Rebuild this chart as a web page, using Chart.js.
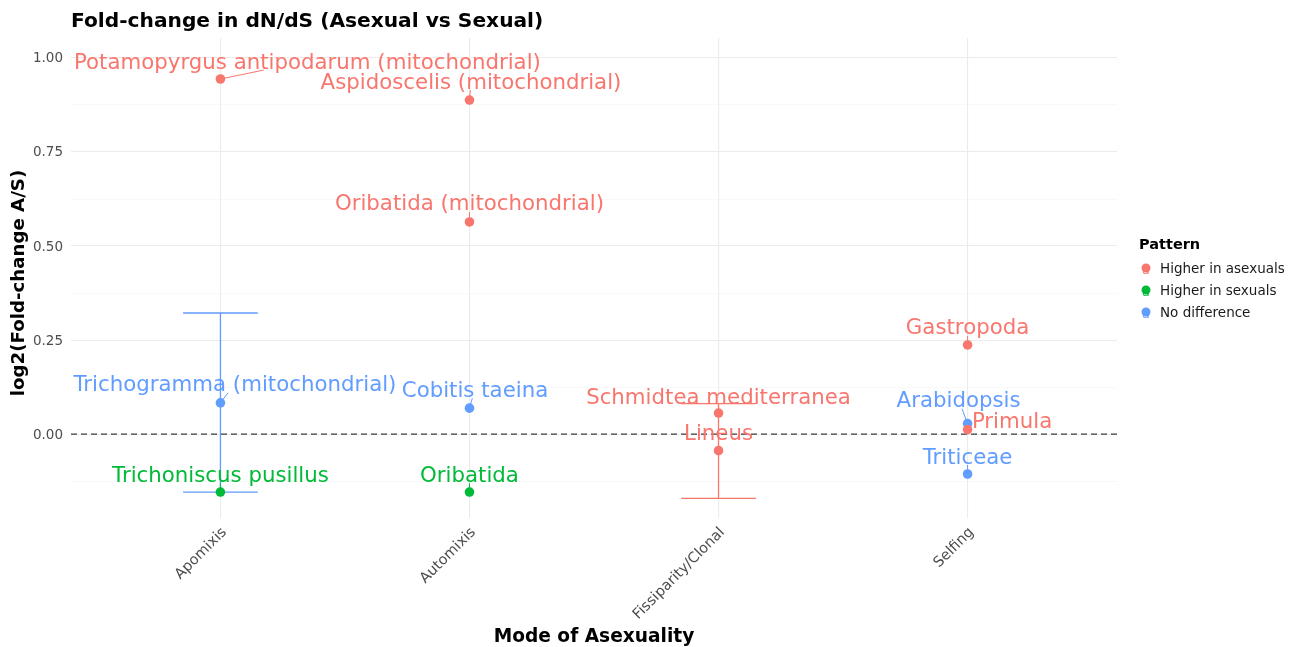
<!DOCTYPE html>
<html>
<head>
<meta charset="utf-8">
<script src="https://cdn.jsdelivr.net/npm/chart.js@4.4.1/dist/chart.umd.min.js"></script>
<style>
  html, body { margin: 0; padding: 0; background: #ffffff; }
  canvas { display: block; }
</style>
</head>
<body>
<canvas id="chart" width="1295" height="647"></canvas>
<script>
// ---- data ----
const modes = ['Apomixis', 'Automixis', 'Fissiparity/Clonal', 'Selfing'];
const patterns = ['Higher in asexuals', 'Higher in sexuals', 'No difference'];

const taxa = [
  'Potamopyrgus antipodarum (mitochondrial)',
  'Trichogramma (mitochondrial)',
  'Trichoniscus pusillus',
  'Aspidoscelis (mitochondrial)',
  'Oribatida (mitochondrial)',
  'Cobitis taeina',
  'Oribatida',
  'Schmidtea mediterranea',
  'Lineus',
  'Gastropoda',
  'Arabidopsis',
  'Primula',
  'Triticeae'
];
const taxonMode = [
  'Apomixis', 'Apomixis', 'Apomixis',
  'Automixis', 'Automixis', 'Automixis', 'Automixis',
  'Fissiparity/Clonal', 'Fissiparity/Clonal',
  'Selfing', 'Selfing', 'Selfing', 'Selfing'
];
const log2FoldChange = [0.944, 0.083, -0.154, 0.888, 0.564, 0.069, -0.154, 0.056, -0.044, 0.237, 0.028, 0.012, -0.106];
const taxonPattern = [
  'Higher in asexuals', 'No difference', 'Higher in sexuals',
  'Higher in asexuals', 'Higher in asexuals', 'No difference', 'Higher in sexuals',
  'Higher in asexuals', 'Higher in asexuals',
  'Higher in asexuals', 'No difference', 'Higher in asexuals', 'No difference'
];
const ciLower = [null, -0.154, null, null, null, null, null, null, -0.171, null, null, null, null];
const ciUpper = [null, 0.322, null, null, null, null, null, null, 0.081, null, null, null, null];

const yMajorTicks = [0, 0.25, 0.5, 0.75, 1.0];
const yTickLabels = ['0.00', '0.25', '0.50', '0.75', '1.00'];
const yMinorTicks = [-0.125, 0.125, 0.375, 0.625, 0.875];

// ---- styling ----
const patternColors = {
  'Higher in asexuals': '#F8766D',
  'Higher in sexuals': '#00BA38',
  'No difference': '#619CFF'
};
// label placement (pixel shift of each label centre from its point, repel-style)
const labelShift = [
  [87, -18], [14.5, -19], [0, -18], [1.5, -19], [0, -19], [5.5, -19], [0, -18],
  [0, -17], [0, -18], [0, -18], [-9, -24], [44.5, -9], [0, -18]
];
const FONT = "'DejaVu Sans', 'Liberation Sans', sans-serif";
const PANEL = { left: 71, right: 1117, top: 38, bottom: 518 };
const W = 1295, H = 647;

const datasets = patterns.map(p => ({
  label: p,
  data: taxa.map((t, i) => i).filter(i => taxonPattern[i] === p).map(i => ({
    x: modes.indexOf(taxonMode[i]) + 1,
    y: log2FoldChange[i],
    idx: i
  })),
  backgroundColor: patternColors[p],
  borderWidth: 0,
  pointRadius: 4.8,
  pointHoverRadius: 4.8
}));

const decorations = {
  id: 'decorations',
  beforeDatasetsDraw(chart) {
    const { ctx, chartArea: a, scales: { x, y } } = chart;
    ctx.save();
    // reference line at zero
    ctx.strokeStyle = '#3d3d3d';
    ctx.lineWidth = 1.2;
    ctx.setLineDash([6, 4]);
    const y0 = y.getPixelForValue(0);
    ctx.beginPath();
    ctx.moveTo(a.left, y0);
    ctx.lineTo(a.right, y0);
    ctx.stroke();
    ctx.setLineDash([]);
    // error bars
    const halfW = (x.getPixelForValue(1.15) - x.getPixelForValue(1));
    taxa.forEach((t, i) => {
      if (ciLower[i] === null) return;
      const px = x.getPixelForValue(modes.indexOf(taxonMode[i]) + 1);
      const lo = y.getPixelForValue(ciLower[i]);
      const hi = y.getPixelForValue(ciUpper[i]);
      ctx.strokeStyle = patternColors[taxonPattern[i]];
      ctx.lineWidth = 1.3;
      ctx.beginPath();
      ctx.moveTo(px - halfW, hi); ctx.lineTo(px + halfW, hi);
      ctx.moveTo(px, hi); ctx.lineTo(px, lo);
      ctx.moveTo(px - halfW, lo); ctx.lineTo(px + halfW, lo);
      ctx.stroke();
    });
    ctx.restore();
  },
  afterDatasetsDraw(chart) {
    const { ctx, scales: { x, y } } = chart;
    ctx.save();
    ctx.font = `21.3px ${FONT}`;
    ctx.textAlign = 'center';
    ctx.textBaseline = 'middle';
    taxa.forEach((t, i) => {
      const px = x.getPixelForValue(modes.indexOf(taxonMode[i]) + 1);
      const py = y.getPixelForValue(log2FoldChange[i]);
      const cx = px + labelShift[i][0];
      const cy = py + labelShift[i][1];
      const hw = ctx.measureText(t).width / 2;
      const hh = 9;
      const col = patternColors[taxonPattern[i]];
      // connector from the point to the label box
      const dx = cx - px, dy = cy - py;
      let tEnter = -Infinity;
      if (dx !== 0) tEnter = Math.max(tEnter, ((dx > 0 ? cx - hw : cx + hw) - px) / dx);
      if (dy !== 0) tEnter = Math.max(tEnter, ((dy > 0 ? cy - hh : cy + hh) - py) / dy);
      if (tEnter > 0 && tEnter < 1) {
        const ex = px + dx * tEnter, ey = py + dy * tEnter;
        if (Math.hypot(ex - px, ey - py) > 7) {
          ctx.strokeStyle = col;
          ctx.lineWidth = 1;
          ctx.beginPath();
          ctx.moveTo(px, py);
          ctx.lineTo(ex, ey);
          ctx.stroke();
        }
      }
      ctx.fillStyle = col;
      ctx.fillText(t, cx, cy + 2);
    });
    ctx.restore();
  },
  afterDraw(chart) {
    const { ctx, chartArea: a } = chart;
    ctx.save();
    // title
    ctx.fillStyle = '#000000';
    ctx.font = `bold 20.2px ${FONT}`;
    ctx.textAlign = 'left';
    ctx.textBaseline = 'alphabetic';
    ctx.fillText('Fold-change in dN/dS (Asexual vs Sexual)', a.left, 27);
    // axis titles
    ctx.font = `bold 18.6px ${FONT}`;
    ctx.textAlign = 'center';
    ctx.fillText('Mode of Asexuality', (a.left + a.right) / 2, 642);
    ctx.save();
    ctx.translate(24, 283);
    ctx.rotate(-Math.PI / 2);
    ctx.font = `bold 18.2px ${FONT}`;
    ctx.fillText('log2(Fold-change A/S)', 0, 0);
    ctx.restore();
    // legend
    ctx.textAlign = 'left';
    ctx.font = `bold 14.5px ${FONT}`;
    ctx.fillText('Pattern', 1139, 249);
    patterns.forEach((p, k) => {
      const ky = 269 + k * 22;
      const col = patternColors[p];
      ctx.fillStyle = col;
      ctx.font = `12px ${FONT}`;
      ctx.textAlign = 'center';
      ctx.textBaseline = 'middle';
      ctx.fillText('a', 1146, ky + 2);
      ctx.beginPath();
      ctx.arc(1146, ky - 1, 4.5, 0, Math.PI * 2);
      ctx.fill();
      ctx.fillStyle = '#1a1a1a';
      ctx.textAlign = 'left';
      ctx.font = `13.5px ${FONT}`;
      ctx.fillText(p, 1160, ky);
    });
    ctx.restore();
  }
};

new Chart(document.getElementById('chart'), {
  type: 'scatter',
  data: { datasets },
  options: {
    responsive: false,
    animation: false,
    events: [],
    layout: { padding: { left: 0, top: PANEL.top, right: W - PANEL.right, bottom: 0 } },
    plugins: { legend: { display: false }, tooltip: { enabled: false }, title: { display: false } },
    scales: {
      x: {
        type: 'linear',
        min: 0.4,
        max: 4.6,
        afterBuildTicks: s => { s.ticks = modes.map((m, i) => ({ value: i + 1 })); },
        afterFit: s => { s.height = H - PANEL.bottom; },
        ticks: {
          autoSkip: false,
          minRotation: 45,
          maxRotation: 45,
          padding: 6,
          labelOffset: 4,
          color: '#4d4d4d',
          font: { family: FONT, size: 14.5 },
          callback: v => modes[Math.round(v) - 1] || ''
        },
        grid: { color: '#ebebeb', lineWidth: 1.1, drawTicks: false },
        border: { display: false }
      },
      y: {
        type: 'linear',
        min: -0.223,
        max: 1.053,
        afterBuildTicks: s => {
          s.ticks = yMinorTicks.concat(yMajorTicks).sort((p, q) => p - q).map(v => ({ value: v }));
        },
        afterFit: s => { s.width = PANEL.left; },
        ticks: {
          autoSkip: false,
          padding: 8,
          labelOffset: 1,
          color: '#4d4d4d',
          font: { family: FONT, size: 13.5 },
          callback: v => {
            const k = yMajorTicks.findIndex(m => Math.abs(m - v) < 1e-9);
            return k >= 0 ? yTickLabels[k] : '';
          }
        },
        grid: {
          drawTicks: false,
          color: c => (yMajorTicks.some(m => Math.abs(m - c.tick.value) < 1e-9) ? '#ebebeb' : '#f3f3f3'),
          lineWidth: c => (yMajorTicks.some(m => Math.abs(m - c.tick.value) < 1e-9) ? 1.1 : 0.6)
        },
        border: { display: false }
      }
    }
  },
  plugins: [decorations]
});
</script>
</body>
</html>
